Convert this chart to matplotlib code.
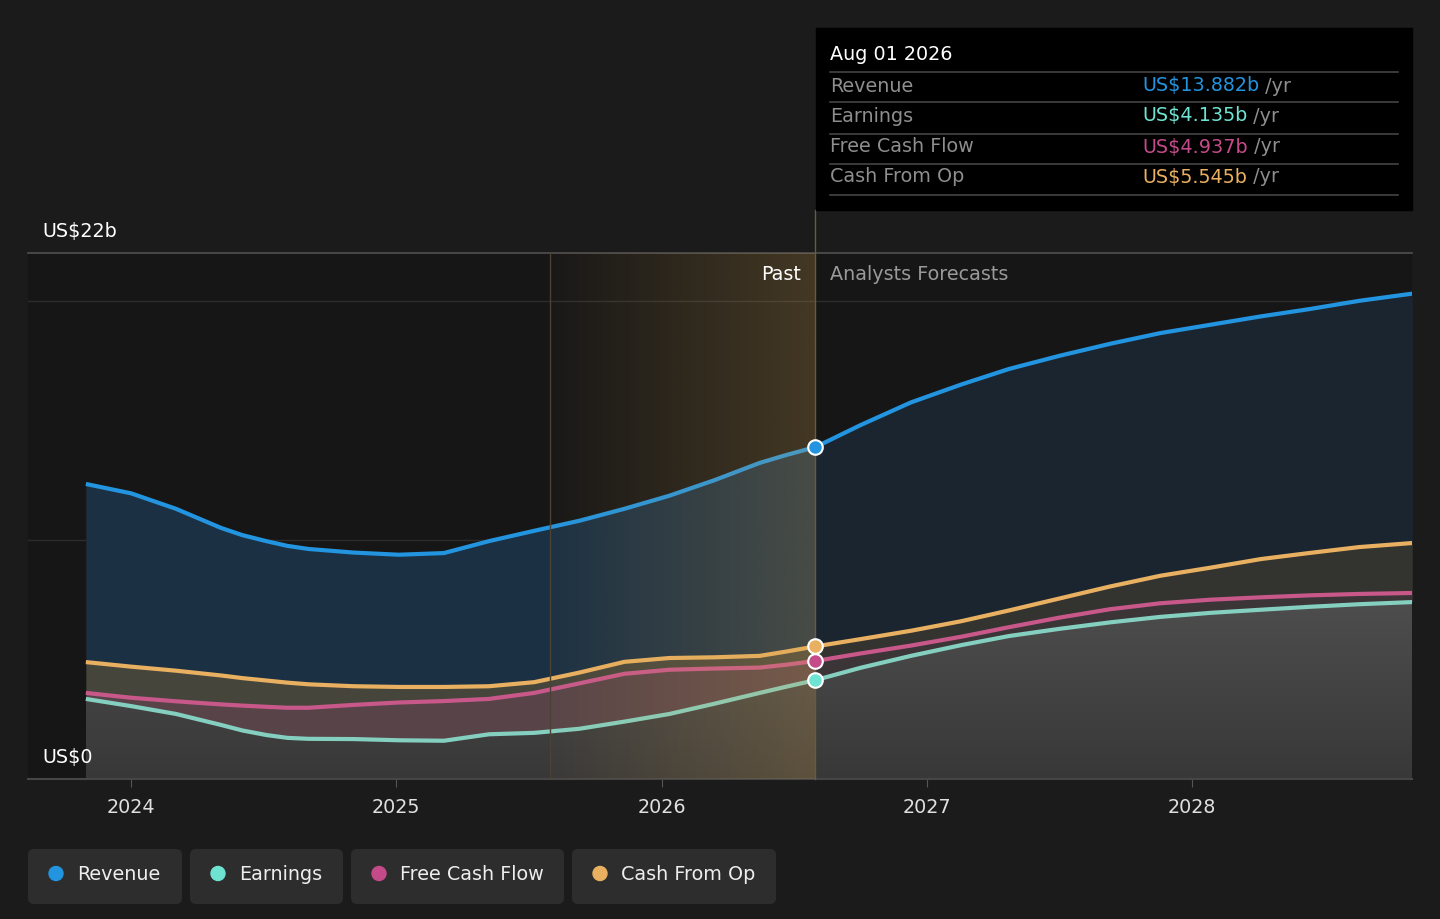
import numpy as np
import matplotlib.pyplot as plt
from matplotlib.patches import Rectangle, FancyBboxPatch, Circle

# data (US$ billions), x in decimal years
x_years = [2023.83, 2024.00, 2024.17, 2024.34, 2024.42, 2024.51, 2024.59, 2024.67, 2024.84,
           2025.01, 2025.18, 2025.35, 2025.52, 2025.69, 2025.86, 2026.03, 2026.20, 2026.37,
           2026.47, 2026.58, 2026.75, 2026.94, 2027.13, 2027.31, 2027.50, 2027.69, 2027.88,
           2028.07, 2028.26, 2028.44, 2028.63, 2028.83]
revenue = [12.34, 11.95, 11.30, 10.50, 10.20, 9.95, 9.75, 9.62, 9.47, 9.38, 9.45, 9.95, 10.38,
           10.80, 11.30, 11.85, 12.50, 13.22, 13.55, 13.882, 14.80, 15.75, 16.50, 17.15, 17.70,
           18.20, 18.65, 19.00, 19.35, 19.65, 20.00, 20.30]
earnings = [3.35, 3.05, 2.72, 2.26, 2.03, 1.84, 1.72, 1.68, 1.67, 1.62, 1.60, 1.87, 1.93, 2.10,
            2.40, 2.72, 3.15, 3.60, 3.86, 4.135, 4.65, 5.15, 5.60, 5.98, 6.28, 6.55, 6.78, 6.95,
            7.08, 7.20, 7.31, 7.40]
fcf = [3.60, 3.40, 3.25, 3.12, 3.07, 3.02, 2.98, 2.98, 3.10, 3.20, 3.26, 3.35, 3.60, 4.00,
       4.40, 4.57, 4.62, 4.66, 4.78, 4.937, 5.25, 5.58, 5.95, 6.35, 6.75, 7.10, 7.35, 7.50,
       7.60, 7.68, 7.74, 7.78]
cfo = [4.89, 4.70, 4.53, 4.33, 4.22, 4.12, 4.03, 3.96, 3.88, 3.85, 3.85, 3.88, 4.05, 4.45,
       4.90, 5.06, 5.09, 5.15, 5.33, 5.545, 5.85, 6.20, 6.60, 7.05, 7.55, 8.05, 8.50, 8.84,
       9.20, 9.45, 9.70, 9.87]

names = ["Revenue", "Earnings", "Free Cash Flow", "Cash From Op"]
colors = ["#2394df", "#6fe3d2", "#c44a8a", "#e8b060"]
line_colors = ["#2394df", "#84cfbf", "#c8588a", "#e8b060"]
now_x = 2026.58
past_start = 2025.58
now_label = "Aug 01 2026"
year_ticks = [2024, 2025, 2026, 2027, 2028]

x = np.array(x_years)
rev = np.array(revenue)
ear = np.array(earnings)
fc = np.array(fcf)
co = np.array(cfo)
past = x <= now_x
fut = x >= now_x

FS = 13.8

fig = plt.figure(figsize=(14.4, 9.19), dpi=100, facecolor="#1b1b1b")
ax = fig.add_axes([28 / 1440, 140 / 919, 1384 / 1440, 526 / 919])
ax.set_facecolor("#161616")
ax.set_xlim(2023.612, 2028.829)
ax.set_ylim(0, 22)

# bands between series
ax.fill_between(x, co, rev, where=past, color="#1b3043", lw=0, zorder=1)
ax.fill_between(x, co, rev, where=fut, color="#1b2530", lw=0, zorder=1)
ax.fill_between(x, fc, co, where=past, color="#45453c", lw=0, zorder=1)
ax.fill_between(x, fc, co, where=fut, color="#33332f", lw=0, zorder=1)
ax.fill_between(x, ear, fc, where=past, color="#584448", lw=0, zorder=1)
ax.fill_between(x, ear, fc, where=fut, color="#3b3538", lw=0, zorder=1)

# grey gradient under earnings
under = ax.fill_between(x, 0, ear, color="none", lw=0)
g = np.linspace(0, 1, 200)[::-1].reshape(-1, 1)
c0, c1 = np.array([0.22, 0.22, 0.22]), np.array([0.31, 0.31, 0.31])
grad = c0 + (c1 - c0) * g[..., None]
grad = np.repeat(grad, 2, axis=1)
im = ax.imshow(grad, extent=[x[0], x[-1], 0, 8], aspect="auto", zorder=1,
               interpolation="bilinear")
im.set_clip_path(under.get_paths()[0], transform=ax.transData)

# grid
for yv in [10, 20]:
    ax.axhline(yv, color="#2c2c2c", lw=1, zorder=0.5)
ax.axhline(22, color="#505050", lw=1.2, zorder=2, clip_on=False)
ax.axhline(0, color="#464646", lw=1.5, zorder=2, clip_on=False)

# lines
for ys, lc in zip([rev, co, fc, ear], [line_colors[0], line_colors[3], line_colors[2], line_colors[1]]):
    ax.plot(x, ys, color=lc, lw=3, zorder=3, solid_capstyle="butt", solid_joinstyle="round")

# past band overlay
alpha = np.linspace(0.02, 0.24, 256)
band = np.zeros((1, 256, 4))
band[..., 0] = 215 / 255
band[..., 1] = 165 / 255
band[..., 2] = 80 / 255
band[..., 3] = alpha
ax.imshow(band, extent=[past_start, now_x, 0, 22], aspect="auto", zorder=4,
          interpolation="bilinear")
ax.plot([past_start, past_start], [0, 22], color="#4a4232", lw=1, zorder=4)
ax.plot([now_x, now_x], [0, 23.8], color="#6a5a40", lw=1, zorder=4, clip_on=False)

# markers at the "now" point
i_now = int(np.argmin(np.abs(x - now_x)))
for ys, c in zip([rev, co, fc, ear], [colors[0], colors[3], colors[2], colors[1]]):
    ax.scatter([x[i_now]], [ys[i_now]], s=110, color=c, edgecolor="white", lw=1.5, zorder=6)

ax.set_xticks(year_ticks)
ax.set_xticklabels([str(t) for t in year_ticks], color="#e0e0e0", fontsize=FS)
ax.tick_params(axis="x", length=6, color="#555555", pad=8)
ax.set_yticks([])
for s in ax.spines.values():
    s.set_visible(False)
ax.set_ylim(0, 22)

# overlay in pixel coords for labels, tooltip and legend
ov = fig.add_axes([0, 0, 1, 1])
ov.set_xlim(0, 1440)
ov.set_ylim(919, 0)
ov.axis("off")
ov.patch.set_alpha(0)

ov.text(42, 232, "US$22b", color="white", fontsize=FS, va="center")
ov.text(42, 758, "US$0", color="white", fontsize=FS, va="center")
ov.text(801, 274, "Past", color="white", fontsize=FS, va="center", ha="right")
ov.text(830, 274, "Analysts Forecasts", color="#9a9a9a", fontsize=FS, va="center")

# tooltip
ov.add_patch(Rectangle((816, 28), 596, 182, color="black", zorder=1))
ov.text(830, 55, now_label, color="white", fontsize=FS, va="center", zorder=2)
row_y = [86, 116, 147, 177]
for yl in [72, 102, 134, 164, 195]:
    ov.plot([830, 1398], [yl, yl], color="#444444", lw=1.2, zorder=2)
for nm, c, ys, yy in zip(names, colors, [rev, ear, fc, co], row_y):
    ov.text(830, yy, nm, color="#8e8e8e", fontsize=FS, va="center", zorder=2)
    t = ov.text(1142, yy, f"US${ys[i_now]:.3f}b", color=c, fontsize=FS, va="center", zorder=2)
    ov.annotate(" /yr", xycoords=t, xy=(1, 0.5), va="center", color="#8e8e8e",
                fontsize=FS, zorder=2)

# legend
boxes = [(28, 154), (190, 153), (351, 213), (572, 204)]
for (bx, bw), nm, c in zip(boxes, names, colors):
    ov.add_patch(FancyBboxPatch((bx, 849), bw, 55, boxstyle="round,pad=0,rounding_size=6",
                                color="#2d2d2d", lw=0))
    ov.add_patch(Circle((bx + 28, 873.5), 7, color=c))
    ov.text(bx + 49, 874, nm, color="#eeeeee", fontsize=FS, va="center")

fig.savefig("out.png", dpi=100, facecolor=fig.get_facecolor())
